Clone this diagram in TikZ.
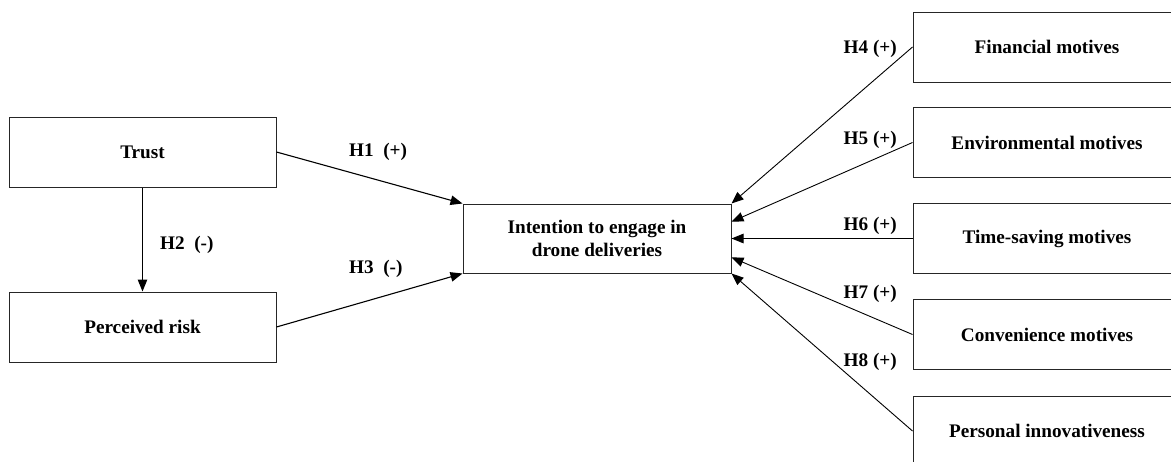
\documentclass[tikz,border=0pt]{standalone}
\usepackage{fontspec}
\setmainfont{Liberation Serif}
\usetikzlibrary{arrows.meta,calc}
\begin{document}
\begin{tikzpicture}[x=1pt,y=-1pt,
  box/.style={draw=black!85,line width=1pt,minimum width=267pt,minimum height=70pt,
    inner sep=0pt,align=center,font=\fontsize{19.2}{23}\selectfont\bfseries},
  hyp/.style={inner sep=0pt,font=\fontsize{19.2}{22}\selectfont\bfseries},
  conn/.style={line width=1.1pt,-{Triangle[length=12pt,width=9.5pt]}},
  connr/.style={line width=0.9pt,-{Triangle[length=12pt,width=9.5pt]}}]
\useasboundingbox (0,0) rectangle (1171,461);

% constructs on the left
\node[box] (trust) at (142.5,152) {Trust};
\node[box] (risk)  at (142.5,327) {Perceived risk};

% outcome
\node[box,minimum width=268pt,minimum height=69pt] (int) at (597,238.5)
  {Intention to engage in\\drone deliveries};

% motives on the right
\node[box,minimum width=268pt] (fin)  at (1047,47)    {Financial motives};
\node[box,minimum width=268pt] (env)  at (1047,142.5) {Environmental motives};
\node[box,minimum width=268pt] (time) at (1047,238.5) {Time-saving motives};
\node[box,minimum width=268pt] (conv) at (1047,334.5) {Convenience motives};
\node[box,minimum width=268pt] (pers) at (1047,431)   {Personal innovativeness};

% paths
\draw[conn] (trust.east) -- (int.north west);
\draw[conn] (trust.south) -- (risk.north);
\draw[conn] (risk.east) -- (int.south west);

\draw[connr] (fin.west)  -- (int.north east);
\draw[connr] (env.west)  -- ($(int.north east)!0.26!(int.south east)$);
\draw[connr] (time.west) -- (int.east);
\draw[connr] (conv.west) -- ($(int.north east)!0.77!(int.south east)$);
\draw[connr] (pers.west) -- (int.south east);

% hypothesis labels
\node[hyp,anchor=west] (h1) at (349,152) {H1\ \ (+)};
\node[hyp,anchor=west] (h2) at (160,245) {H2\ \ (-)};
\node[hyp,anchor=west] (h3) at (349,269) {H3\ \ (-)};
\node[hyp,anchor=east] (h4) at (897,49)  {H4 (+)};
\node[hyp,anchor=east] (h5) at (897,140) {H5 (+)};
\node[hyp,anchor=east] (h6) at (897,226) {H6 (+)};
\node[hyp,anchor=east] (h7) at (897,294) {H7 (+)};
\node[hyp,anchor=east] (h8) at (897,362) {H8 (+)};
\end{tikzpicture}
\end{document}
